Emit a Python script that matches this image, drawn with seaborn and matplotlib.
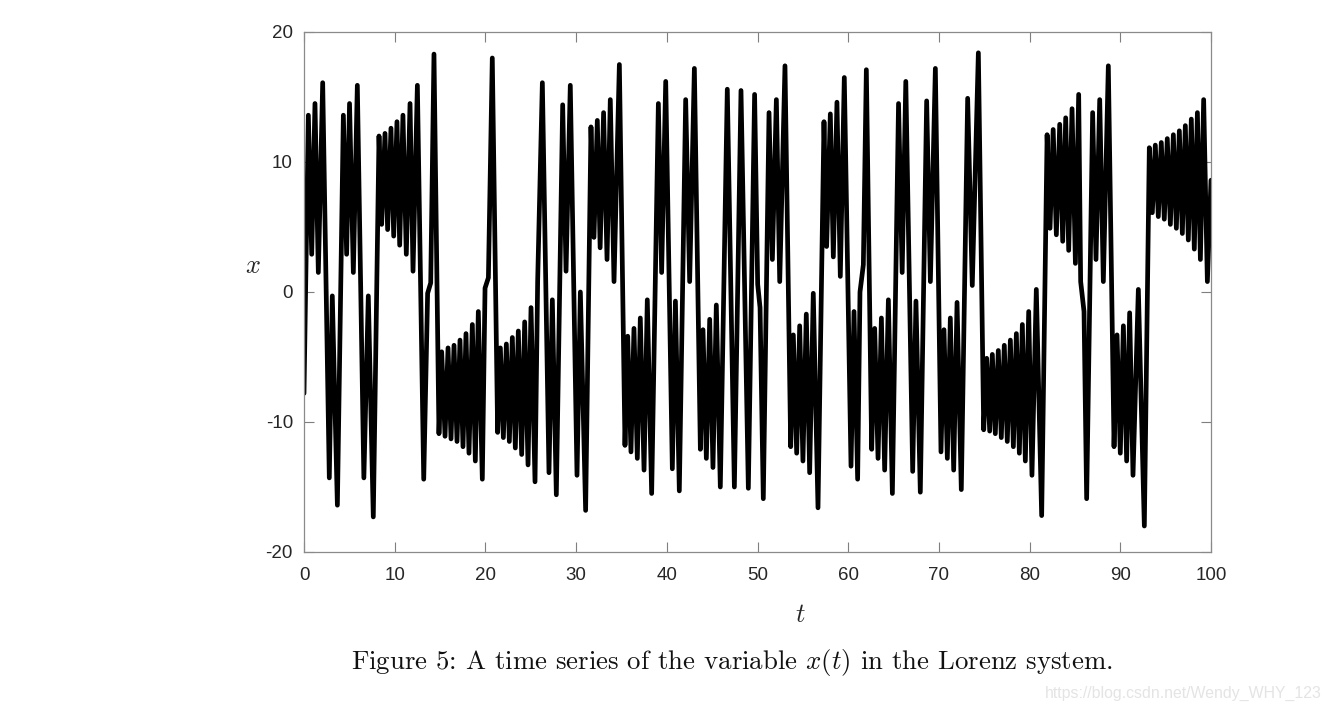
import matplotlib
matplotlib.use("Agg")
import matplotlib.pyplot as plt
import seaborn as sns
import pandas as pd

# Turning points of x(t)
t_vals = [0.0, 0.48, 0.85, 1.21, 1.58, 2.06, 2.79, 3.12, 3.68, 4.34, 4.70, 5.02, 5.44, 5.88, 6.60, 7.09, 7.64,
          8.27, 8.56, 8.93, 9.22, 9.59, 9.89, 10.25, 10.55, 10.91, 11.28, 11.69, 12.02, 12.50, 13.20, 13.63, 13.97,
          14.33, 14.88, 15.18, 15.55, 15.88, 16.21, 16.54, 16.87, 17.20, 17.53, 17.86, 18.19, 18.56, 18.89, 19.22,
          19.66, 19.96, 20.33, 20.76, 21.35, 21.65, 21.98, 22.31, 22.64, 22.97, 23.30, 23.63, 24.00, 24.33, 24.70,
          25.03, 25.47, 25.76, 26.28, 27.01, 27.38, 27.82, 28.52, 28.89, 29.36, 30.10, 30.47, 31.05, 31.64, 31.97,
          32.34, 32.65, 33.03, 33.41, 33.77, 34.18, 34.77, 35.39, 35.69, 36.05, 36.38, 36.75, 37.08, 37.49, 37.85,
          38.33, 39.07, 39.43, 39.88, 40.61, 40.95, 41.38, 42.08, 42.52, 43.04, 43.70, 43.99, 44.36, 44.73, 45.09,
          45.46, 45.90, 46.67, 47.45, 48.18, 48.99, 49.68, 50.02, 50.28, 50.64, 51.27, 51.64, 52.08, 52.45, 53.03,
          53.66, 53.95, 54.32, 54.65, 55.01, 55.38, 55.75, 56.15, 56.67, 57.33, 57.62, 58.03, 58.36, 58.76, 59.13,
          59.57, 60.31, 60.64, 61.04, 61.30, 61.67, 62.00, 62.59, 62.92, 63.29, 63.66, 64.02, 64.43, 64.87, 65.55,
          65.95, 66.35, 67.11, 67.47, 67.95, 68.65, 69.06, 69.61, 70.23, 70.56, 70.93, 71.26, 71.63, 72.00, 72.47,
          73.17, 73.68, 74.35, 74.94, 75.27, 75.60, 75.89, 76.22, 76.55, 76.88, 77.21, 77.54, 77.88, 78.21, 78.54,
          78.87, 79.20, 79.53, 79.90, 80.26, 80.74, 81.33, 81.93, 82.25, 82.60, 82.95, 83.32, 83.65, 83.98, 84.31,
          84.68, 85.05, 85.41, 85.63, 86.00, 86.29, 86.95, 87.32, 87.73, 88.13, 88.68, 89.31, 89.64, 90.00, 90.34,
          90.70, 91.03, 91.40, 91.99, 92.65, 93.20, 93.53, 93.86, 94.19, 94.52, 94.85, 95.18, 95.52, 95.85, 96.18,
          96.51, 96.84, 97.17, 97.50, 97.83, 98.16, 98.50, 98.83, 99.19, 99.60, 100.0]
x_vals = [-7.8, 13.6, 2.9, 14.5, 1.5, 16.1, -14.3, -0.3, -16.4, 13.6, 2.9, 14.5, 1.5, 15.9, -14.3, -0.3, -17.3,
          12.0, 5.2, 12.2, 4.8, 12.6, 4.3, 13.1, 3.6, 13.6, 2.9, 14.5, 1.6, 15.9, -14.4, -0.1, 0.7,
          18.3, -10.9, -4.6, -11.1, -4.3, -11.3, -4.1, -11.5, -3.7, -11.9, -3.2, -12.4, -2.5, -13.0, -1.5,
          -14.4, 0.3, 1.1, 18.0, -10.8, -4.3, -11.2, -4.0, -11.5, -3.5, -12.0, -3.0, -12.5, -2.3, -13.3,
          -1.2, -14.6, 0.8, 16.1, -13.9, -0.6, -15.6, 14.4, 1.6, 15.9, -14.1, 0.0, -16.8, 12.7, 4.2,
          13.2, 3.4, 13.8, 2.5, 14.8, 0.8, 17.5, -11.8, -3.4, -12.3, -2.8, -12.8, -2.0, -13.7, -0.6,
          -15.5, 14.5, 1.5, 16.2, -13.6, -0.7, -15.3, 14.8, 0.8, 17.2, -12.1, -2.9, -12.8, -2.1, -13.5,
          -1.0, -15.0, 15.6, -15.0, 15.5, -15.1, 15.2, 0.6, -1.2, -15.9, 13.8, 2.5, 14.8, 0.8, 17.4,
          -11.9, -3.3, -12.4, -2.6, -13.0, -1.7, -13.9, -0.1, -16.6, 13.1, 3.5, 13.7, 2.7, 14.6, 1.2,
          16.5, -13.4, -1.5, -14.4, 0.0, 2.1, 17.1, -12.1, -2.8, -12.8, -2.0, -13.7, -0.6, -15.5, 14.5,
          1.5, 16.2, -13.8, -0.7, -15.4, 14.7, 0.8, 17.2, -12.3, -2.9, -12.8, -2.0, -13.7, -0.8, -15.2,
          14.9, 0.5, 18.4, -10.6, -5.1, -10.7, -4.8, -10.9, -4.5, -11.2, -4.1, -11.5, -3.7, -11.9, -3.2,
          -12.4, -2.5, -13.0, -1.5, -14.1, 0.2, -17.2, 12.1, 4.9, 12.5, 4.4, 12.9, 3.9, 13.4, 3.2,
          14.1, 2.2, 15.2, 0.8, -1.5, -15.9, 13.8, 2.5, 14.8, 0.8, 17.4, -11.9, -3.3, -12.4, -2.6,
          -13.0, -1.6, -14.1, 0.2, -18.0, 11.1, 6.1, 11.3, 5.8, 11.5, 5.6, 11.8, 5.2, 12.1, 4.9,
          12.4, 4.5, 12.8, 4.0, 13.3, 3.3, 13.8, 2.5, 14.8, 0.8, 8.6]

x_ticks = [0, 10, 20, 30, 40, 50, 60, 70, 80, 90, 100]
y_ticks = [-20, -10, 0, 10, 20]
caption_text = r"Figure 5: A time series of the variable $x(t)$ in the Lorenz system."
watermark = "https://blog.csdn.net/Wendy_WHY_123"

df = pd.DataFrame({"t": t_vals, "x": x_vals})

sns.set_theme(style="white")
plt.rcParams["font.family"] = ["Liberation Sans", "DejaVu Sans"]
plt.rcParams["mathtext.fontset"] = "cm"
plt.rcParams["axes.unicode_minus"] = False

fig = plt.figure(figsize=(13.32, 7.13), dpi=100)
ax = fig.add_axes([304 / 1332, 1 - 552 / 713, 907 / 1332, 520 / 713])

sns.lineplot(data=df, x="t", y="x", ax=ax, color="black", linewidth=3.4,
             sort=False, estimator=None)
for ln in ax.lines:
    ln.set_solid_joinstyle("round")
    ln.set_solid_capstyle("round")

ax.set_xlim(0, 100)
ax.set_ylim(-20, 20)
ax.set_xticks(x_ticks)
ax.set_yticks(y_ticks)
ax.set_xticklabels([str(v) for v in x_ticks])
ax.set_yticklabels([str(v) for v in y_ticks])
ax.tick_params(direction="in", length=7, width=0.8, colors="#7f7f7f",
               labelcolor="#262626", labelsize=13.5, top=True, right=True,
               bottom=True, left=True)
ax.tick_params(axis="x", pad=11)
ax.tick_params(axis="y", pad=8)
for sp in ax.spines.values():
    sp.set_color("#8a8a8a")
    sp.set_linewidth(0.9)

ax.set_xlabel(r"$t$", fontsize=19, va="center")
ax.set_ylabel(r"$x$", fontsize=19, rotation=0, va="center", ha="center")
ax.xaxis.set_label_coords(0.547, -0.121)
ax.yaxis.set_label_coords(-0.056, 0.55)

fig.text(732 / 1332, 1 - 662 / 713, caption_text, ha="center", va="center",
         fontsize=19.3, family="cmr10", color="#111111")
fig.text(1322 / 1332, 1 - 693 / 713, watermark, ha="right", va="center",
         fontsize=11.4, color="#e4e4e4")

fig.savefig("out.png", dpi=100)
